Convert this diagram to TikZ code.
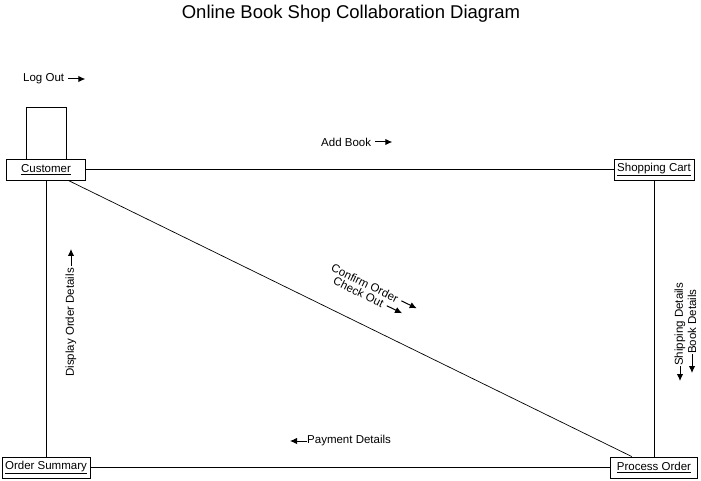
\documentclass[tikz,border=0pt]{standalone}
\usepackage{fontspec}
\setmainfont{Liberation Sans}
\usepackage{tikz}
\usetikzlibrary{arrows.meta}
\tikzstyle{object}=[draw, line width=0.9pt, minimum height=21pt, inner sep=2pt, font=\fontsize{11.5}{13}\selectfont]
\tikzstyle{lbl}=[inner sep=0pt, font=\fontsize{11.5}{13}\selectfont]
\tikzstyle{link}=[line width=0.7pt]
\tikzstyle{msg}=[-{Latex[length=7pt,width=6.5pt]}, line width=1pt]
\newcommand{\obj}[1]{\underline{#1}}

\begin{document}
\begin{tikzpicture}[x=1pt,y=-1pt]
\useasboundingbox (0,0) rectangle (701,481);

\node[font=\fontsize{18.5}{22}\selectfont] (title) at (351,14) {Online Book Shop Collaboration Diagram};

% objects
\node[object, minimum width=79pt] (customer) at (46,169.5) {\obj{Customer}};
\node[object, minimum width=80pt] (cart) at (654,169.5) {\obj{Shopping Cart}};
\node[object, minimum width=88pt] (summary) at (46,467.5) {\obj{Order Summary}};
\node[object, minimum width=87pt] (process) at (654,467.5) {\obj{Process Order}};

% links
\draw[link] (customer) -- (cart);
\draw[link] (customer) -- (summary);
\draw[link] (cart) -- (process);
\draw[link] (summary) -- (process);
\draw[link] (customer) -- (process);
\draw[link] ([xshift=-20pt]customer.north) -- ++(0,-51.5) -| ([xshift=20pt]customer.north);

% messages
\node[lbl, anchor=west] (logout) at (23,79) {Log Out};
\draw[msg] ([xshift=4pt]logout.east) -- ++(17,0);

\node[lbl, anchor=west] (addbook) at (321,142) {Add Book};
\draw[msg] ([xshift=4pt]addbook.east) -- ++(17,0);

\node[lbl, anchor=west] (payment) at (307,441) {Payment Details};
\draw[msg] (payment.west) -- ++(-17,0);

\node[lbl, rotate=90, anchor=west] (display) at (71,377) {Display Order Details};
\draw[msg] ([yshift=2pt]display.east) -- ++(0,-17);

\node[lbl, rotate=90, anchor=west] (shipping) at (680,366) {Shipping Details};
\draw[msg] (shipping.west) -- ++(0,15);
\node[lbl, rotate=90, anchor=west] (bookdet) at (692,354) {Book Details};
\draw[msg] (bookdet.west) -- ++(0,19);

\node[lbl, rotate=-26, anchor=west] (confirm) at (332,267) {Confirm Order};
\draw[msg] ([shift={(26:4)}]confirm.east) -- ++(26:17);
\node[lbl, rotate=-26, anchor=west] (checkout) at (334,280) {Check Out};
\draw[msg] ([shift={(26:4)}]checkout.east) -- ++(26:17);

\end{tikzpicture}
\end{document}
